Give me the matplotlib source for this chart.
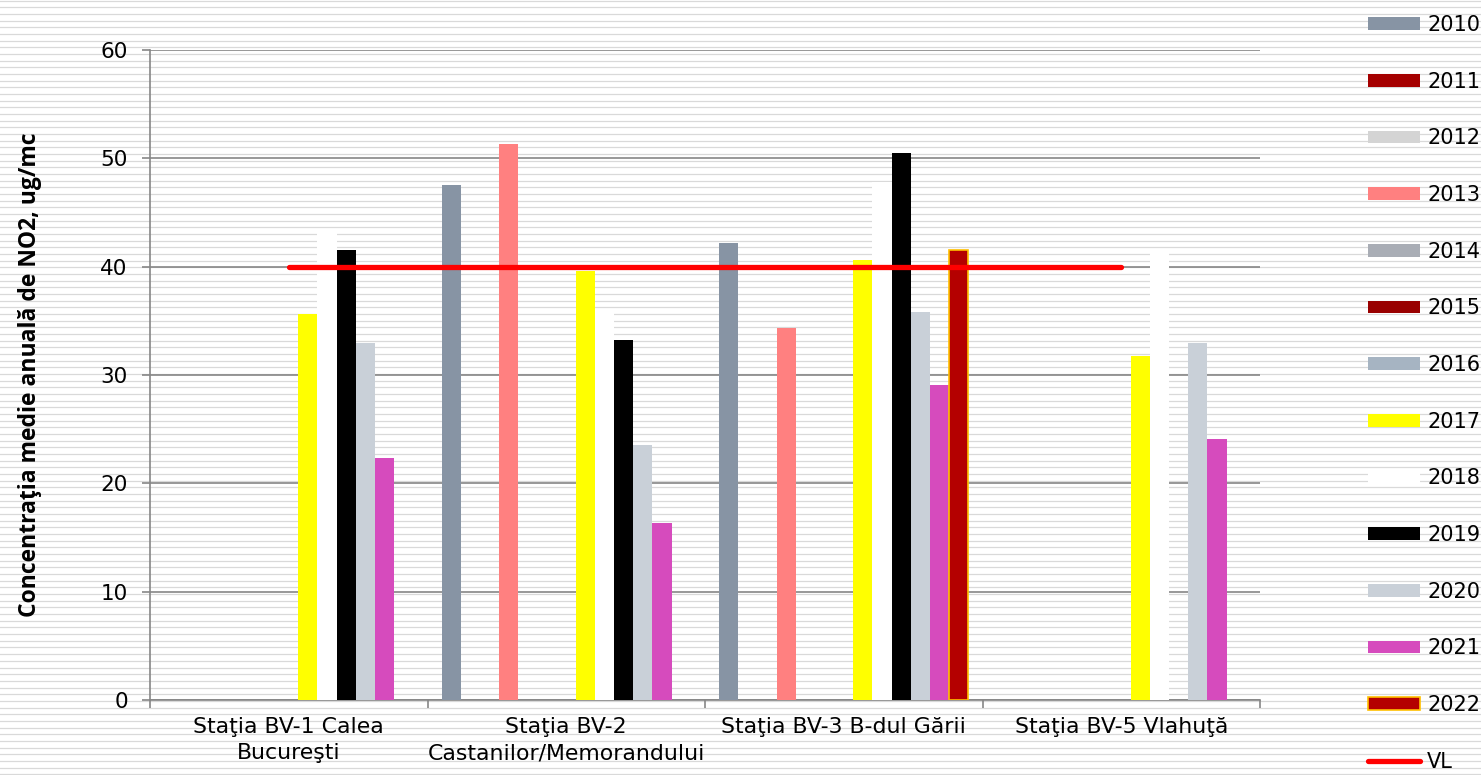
import numpy as np
import matplotlib
matplotlib.use('Agg')
import matplotlib.pyplot as plt
from matplotlib.lines import Line2D

# statii (categorii)
statii = ['Staţia BV-1 Calea\nBucureşti', 'Staţia BV-2\nCastanilor/Memorandului',
          'Staţia BV-3 B-dul Gării', 'Staţia BV-5 Vlahuţă']
ani = ['2010', '2011', '2012', '2013', '2014', '2015', '2016',
       '2017', '2018', '2019', '2020', '2021', '2022']

# valori medii anuale NO2 (ug/mc), None = lipsa date
v2010 = [None, 47.5, 42.2, None]
v2011 = [None, None, None, None]
v2012 = [None, None, None, None]
v2013 = [None, 51.3, 34.3, None]
v2014 = [None, None, None, None]
v2015 = [None, None, None, None]
v2016 = [None, None, None, None]
v2017 = [35.6, 39.6, 40.6, 31.8]
v2018 = [43.1, 36.0, 47.8, 41.3]
v2019 = [41.5, 33.2, 50.5, None]
v2020 = [33.0, 23.5, 35.8, 33.0]
v2021 = [22.3, 16.3, 29.1, 24.1]
v2022 = [None, None, 41.5, None]
vl = [40, 40, 40, 40]

serii = [v2010, v2011, v2012, v2013, v2014, v2015, v2016,
         v2017, v2018, v2019, v2020, v2021, v2022]
culori = ['#8794a4', '#a50000', '#d4d4d4', '#ff8080', '#a9adb5', '#990000', '#a6b4c2',
          '#ffff00', '#ffffff', '#000000', '#c9d0d8', '#d64bbd', '#b40000']

fig = plt.figure(figsize=(14.81, 7.75), dpi=100)
fig.patch.set_facecolor('white')

# fundal hasurat cu linii orizontale
for yy in np.arange(0.5, 775, 6.67):
    fig.add_artist(Line2D([0, 1], [1 - yy / 775, 1 - yy / 775], color='#d9d9d9',
                          lw=0.9, zorder=-5, transform=fig.transFigure))

ax = fig.add_axes([150 / 1481, 75 / 775, 1110 / 1481, 650 / 775])
ax.patch.set_alpha(0)

x = np.arange(len(statii))
w = 0.069
handles = []
for i, (an, s, c) in enumerate(zip(ani, serii, culori)):
    h = np.array([np.nan if v is None else v for v in s], dtype=float)
    pos = x - 6 * w + i * w
    if an == '2022':
        b = ax.bar(pos, h, w, color=c, edgecolor='#ffc000', linewidth=1.2, label=an, zorder=3)
    else:
        b = ax.bar(pos, h, w, color=c, linewidth=0, label=an, zorder=3)
    handles.append(b)

ln, = ax.plot(x, vl, color='#ff0000', lw=3.8, solid_capstyle='round', label='VL', zorder=4)
handles.append(ln)

ax.set_xlim(-0.5, 3.5)
ax.set_ylim(0, 60)
ax.set_yticks(range(0, 61, 10))
ax.yaxis.grid(True, color='#868686', lw=1.2)
ax.set_axisbelow(True)
for sp in ['top', 'right']:
    ax.spines[sp].set_visible(False)
for sp in ['left', 'bottom']:
    ax.spines[sp].set_color('#868686')
    ax.spines[sp].set_linewidth(1.2)

ax.set_xticks([-0.5, 0.5, 1.5, 2.5, 3.5])
ax.set_xticklabels([])
ax.set_xticks(x, minor=True)
ax.set_xticklabels(statii, minor=True, fontsize=15.8, linespacing=1.4)
ax.tick_params(axis='x', which='minor', length=0, pad=12)
ax.tick_params(axis='x', which='major', length=6, color='#868686', width=1.2)
ax.tick_params(axis='y', length=6, color='#868686', width=1.2, labelsize=15.5, pad=10)

ax.set_ylabel('Concentraţia medie anuală de NO2, ug/mc', fontsize=16.5,
              fontweight='bold', family='Open Sans')
ax.yaxis.set_label_coords(-0.097, 0.5)

ax.legend(handles=handles, labels=ani + ['VL'], loc='upper left',
          bbox_to_anchor=(1368 / 1481, 1 - 15 / 775),
          bbox_transform=fig.transFigure, frameon=False, fontsize=15,
          handlelength=2.5, handleheight=0.58, handletextpad=0.34,
          labelspacing=1.76, borderpad=0, borderaxespad=0)

fig.savefig('out.png', dpi=100, facecolor='white')
